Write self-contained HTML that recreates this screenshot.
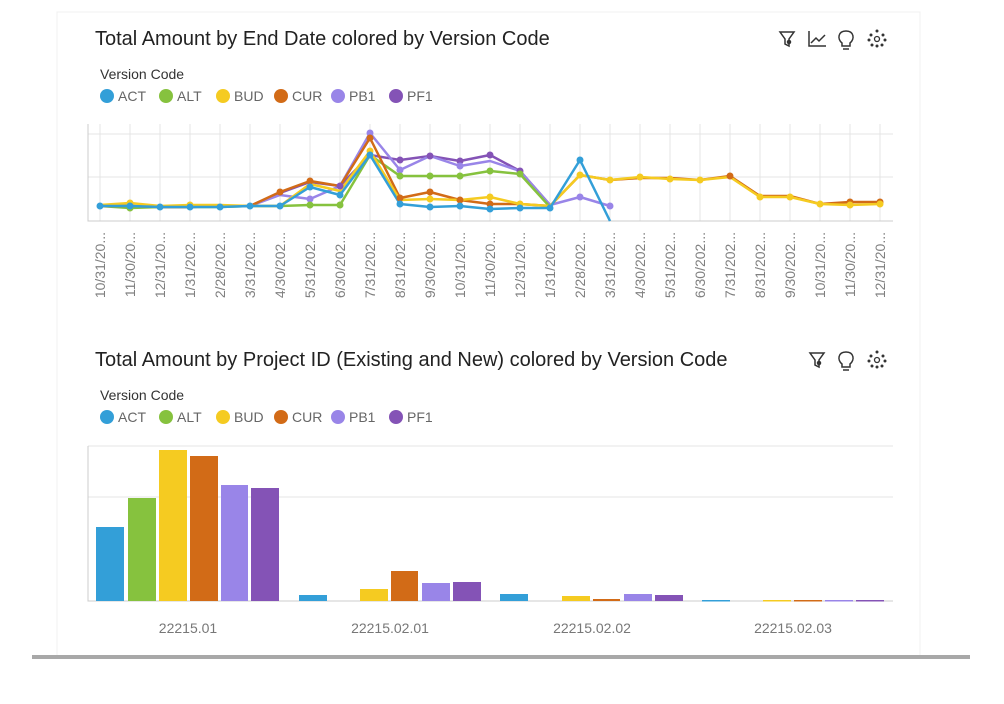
<!DOCTYPE html>
<html><head><meta charset="utf-8"><style>
body{margin:0;background:#fff;width:1004px;height:699px;overflow:hidden;font-family:"Liberation Sans",sans-serif}
</style></head><body>
<svg width="1004" height="699" xmlns="http://www.w3.org/2000/svg" font-family="Liberation Sans, sans-serif">
<rect x="57" y="12" width="863" height="645" fill="#fff" stroke="#f0f0f0"/>
<rect x="32" y="655" width="938" height="4" fill="#a8a8a8"/>
<!-- Chart 1 -->
<text x="95" y="45" font-size="20" fill="#222">Total Amount by End Date colored by Version Code</text>
<g fill="none" stroke="#333" stroke-width="1.5">
<path d="M780 32h14l-5 7v7l-4-2v-5z"/><circle cx="789" cy="42" r="1.5" fill="#333"/>
<path d="M809 31v15h17M811 43l5-5 3 3 6-6"/>
<path d="M842 43c-5-4-4-12 4-12s9 8 4 12v3h-8z"/><path d="M843 49h6"/>
</g>
<g fill="#333"><circle cx="877" cy="31" r="1.5"/><circle cx="871" cy="35" r="1.5"/><circle cx="883" cy="35" r="1.5"/><circle cx="869" cy="40" r="1.5"/><circle cx="885" cy="40" r="1.5"/><circle cx="872" cy="45" r="1.5"/><circle cx="882" cy="45" r="1.5"/><circle cx="877" cy="46" r="1.5"/><circle cx="877" cy="39" r="2.5" fill="none" stroke="#333" stroke-width="1.3"/></g>
<text x="100" y="79" font-size="14" fill="#333">Version Code</text>
<g font-size="14" fill="#666">
<circle cx="107" cy="96" r="7" fill="#339fd8"/><text x="118" y="101">ACT</text>
<circle cx="166" cy="96" r="7" fill="#86c23e"/><text x="177" y="101">ALT</text>
<circle cx="223" cy="96" r="7" fill="#f5cb21"/><text x="234" y="101">BUD</text>
<circle cx="281" cy="96" r="7" fill="#d26b17"/><text x="292" y="101">CUR</text>
<circle cx="338" cy="96" r="7" fill="#9985e8"/><text x="349" y="101">PB1</text>
<circle cx="396" cy="96" r="7" fill="#8453b6"/><text x="407" y="101">PF1</text>
</g>
<g stroke="#e4e4e4" stroke-width="1">
<path d="M88 134H893M88 177H893"/>
<path d="M100 124V221M130 124V221M160 124V221M190 124V221M220 124V221M250 124V221M280 124V221M310 124V221M340 124V221M370 124V221M400 124V221M430 124V221M460 124V221M490 124V221M520 124V221M550 124V221M580 124V221M610 124V221M640 124V221M670 124V221M700 124V221M730 124V221M760 124V221M790 124V221M820 124V221M850 124V221M880 124V221"/>
</g>
<path d="M88 124V221H893" stroke="#ccc" fill="none"/>
<g fill="none" stroke-width="2.5" stroke-linejoin="round">
<polyline stroke="#8453b6" points="100,206 130,206 160,207 190,207 220,206 250,206 280,193 310,182 340,186 370,155 400,160 430,156 460,161 490,155 520,171 550,205"/>
<polyline stroke="#9985e8" points="100,206 130,206 160,207 190,207 220,206 250,206 280,195 310,199 340,186 370,133 400,170 430,156 460,166 490,161 520,171 550,205 580,197 610,206"/>
<polyline stroke="#86c23e" points="100,206 130,208 160,207 190,207 220,207 250,206 280,206 310,205 340,205 370,155 400,176 430,176 460,176 490,171 520,174 550,207"/>
<polyline stroke="#d26b17" points="100,206 130,206 160,207 190,207 220,206 250,206 280,192 310,181 340,186 370,138 400,198 430,192 460,200 490,204 520,204 550,206 580,175 610,180 640,178 670,178 700,180 730,176 760,196 790,196 820,204 850,202 880,202"/>
<polyline stroke="#f5cb21" points="100,205 130,203 160,206 190,205 220,205 250,206 280,206 310,184 340,191 370,151 400,200 430,199 460,200 490,197 520,204 550,206 580,175 610,180 640,177 670,179 700,180 730,177 760,197 790,197 820,204 850,205 880,204"/>
<polyline stroke="#339fd8" points="100,206 130,206 160,207 190,207 220,207 250,206 280,206 310,187 340,195 370,155 400,204 430,207 460,206 490,209 520,208 550,208 580,160 610,221"/>
</g>
<g stroke="none">
<g fill="#8453b6"><circle cx="400" cy="160" r="3.5"/><circle cx="430" cy="156" r="3.5"/><circle cx="460" cy="161" r="3.5"/><circle cx="490" cy="155" r="3.5"/><circle cx="520" cy="171" r="3.5"/><circle cx="340" cy="186" r="3.5"/></g>
<g fill="#9985e8"><circle cx="370" cy="133" r="3.5"/><circle cx="400" cy="170" r="3.5"/><circle cx="460" cy="166" r="3.5"/><circle cx="580" cy="197" r="3.5"/><circle cx="610" cy="206" r="3.5"/><circle cx="310" cy="199" r="3.5"/></g>
<g fill="#86c23e"><circle cx="130" cy="208" r="3.5"/><circle cx="310" cy="205" r="3.5"/><circle cx="340" cy="205" r="3.5"/><circle cx="400" cy="176" r="3.5"/><circle cx="430" cy="176" r="3.5"/><circle cx="460" cy="176" r="3.5"/><circle cx="490" cy="171" r="3.5"/><circle cx="520" cy="174" r="3.5"/></g>
<g fill="#d26b17"><circle cx="280" cy="192" r="3.5"/><circle cx="310" cy="181" r="3.5"/><circle cx="370" cy="138" r="3.5"/><circle cx="400" cy="198" r="3.5"/><circle cx="430" cy="192" r="3.5"/><circle cx="460" cy="200" r="3.5"/><circle cx="490" cy="204" r="3.5"/><circle cx="730" cy="176" r="3.5"/><circle cx="850" cy="202" r="3.5"/><circle cx="880" cy="202" r="3.5"/></g>
<g fill="#f5cb21"><circle cx="130" cy="203" r="3.5"/><circle cx="190" cy="205" r="3.5"/><circle cx="370" cy="151" r="3.5"/><circle cx="430" cy="199" r="3.5"/><circle cx="490" cy="197" r="3.5"/><circle cx="520" cy="204" r="3.5"/><circle cx="580" cy="175" r="3.5"/><circle cx="610" cy="180" r="3.5"/><circle cx="640" cy="177" r="3.5"/><circle cx="670" cy="179" r="3.5"/><circle cx="700" cy="180" r="3.5"/><circle cx="760" cy="197" r="3.5"/><circle cx="790" cy="197" r="3.5"/><circle cx="820" cy="204" r="3.5"/><circle cx="850" cy="205" r="3.5"/><circle cx="880" cy="204" r="3.5"/></g>
<g fill="#339fd8"><circle cx="100" cy="206" r="3.5"/><circle cx="130" cy="206" r="3.5"/><circle cx="160" cy="207" r="3.5"/><circle cx="190" cy="207" r="3.5"/><circle cx="220" cy="207" r="3.5"/><circle cx="250" cy="206" r="3.5"/><circle cx="280" cy="206" r="3.5"/><circle cx="310" cy="187" r="3.5"/><circle cx="340" cy="195" r="3.5"/><circle cx="370" cy="155" r="3.5"/><circle cx="400" cy="204" r="3.5"/><circle cx="430" cy="207" r="3.5"/><circle cx="460" cy="206" r="3.5"/><circle cx="490" cy="209" r="3.5"/><circle cx="520" cy="208" r="3.5"/><circle cx="550" cy="208" r="3.5"/><circle cx="580" cy="160" r="3.5"/></g>
</g>
<g font-size="14" fill="#808080" text-anchor="end">
<text transform="translate(105,232) rotate(-90)">10/31/20...</text>
<text transform="translate(135,232) rotate(-90)">11/30/20...</text>
<text transform="translate(165,232) rotate(-90)">12/31/20...</text>
<text transform="translate(195,232) rotate(-90)">1/31/202...</text>
<text transform="translate(225,232) rotate(-90)">2/28/202...</text>
<text transform="translate(255,232) rotate(-90)">3/31/202...</text>
<text transform="translate(285,232) rotate(-90)">4/30/202...</text>
<text transform="translate(315,232) rotate(-90)">5/31/202...</text>
<text transform="translate(345,232) rotate(-90)">6/30/202...</text>
<text transform="translate(375,232) rotate(-90)">7/31/202...</text>
<text transform="translate(405,232) rotate(-90)">8/31/202...</text>
<text transform="translate(435,232) rotate(-90)">9/30/202...</text>
<text transform="translate(465,232) rotate(-90)">10/31/20...</text>
<text transform="translate(495,232) rotate(-90)">11/30/20...</text>
<text transform="translate(525,232) rotate(-90)">12/31/20...</text>
<text transform="translate(555,232) rotate(-90)">1/31/202...</text>
<text transform="translate(585,232) rotate(-90)">2/28/202...</text>
<text transform="translate(615,232) rotate(-90)">3/31/202...</text>
<text transform="translate(645,232) rotate(-90)">4/30/202...</text>
<text transform="translate(675,232) rotate(-90)">5/31/202...</text>
<text transform="translate(705,232) rotate(-90)">6/30/202...</text>
<text transform="translate(735,232) rotate(-90)">7/31/202...</text>
<text transform="translate(765,232) rotate(-90)">8/31/202...</text>
<text transform="translate(795,232) rotate(-90)">9/30/202...</text>
<text transform="translate(825,232) rotate(-90)">10/31/20...</text>
<text transform="translate(855,232) rotate(-90)">11/30/20...</text>
<text transform="translate(885,232) rotate(-90)">12/31/20...</text>
</g>
<!-- Chart 2 -->
<text x="95" y="366" font-size="20" fill="#222">Total Amount by Project ID (Existing and New) colored by Version Code</text>
<g fill="none" stroke="#333" stroke-width="1.5">
<path d="M810 353h14l-5 7v7l-4-2v-5z"/><circle cx="819" cy="363" r="1.5" fill="#333"/>
<path d="M842 364c-5-4-4-12 4-12s9 8 4 12v3h-8z"/><path d="M843 370h6"/>
</g>
<g fill="#333"><circle cx="877" cy="352" r="1.5"/><circle cx="871" cy="356" r="1.5"/><circle cx="883" cy="356" r="1.5"/><circle cx="869" cy="361" r="1.5"/><circle cx="885" cy="361" r="1.5"/><circle cx="872" cy="366" r="1.5"/><circle cx="882" cy="366" r="1.5"/><circle cx="877" cy="367" r="1.5"/><circle cx="877" cy="360" r="2.5" fill="none" stroke="#333" stroke-width="1.3"/></g>
<text x="100" y="400" font-size="14" fill="#333">Version Code</text>
<g font-size="14" fill="#666">
<circle cx="107" cy="417" r="7" fill="#339fd8"/><text x="118" y="422">ACT</text>
<circle cx="166" cy="417" r="7" fill="#86c23e"/><text x="177" y="422">ALT</text>
<circle cx="223" cy="417" r="7" fill="#f5cb21"/><text x="234" y="422">BUD</text>
<circle cx="281" cy="417" r="7" fill="#d26b17"/><text x="292" y="422">CUR</text>
<circle cx="338" cy="417" r="7" fill="#9985e8"/><text x="349" y="422">PB1</text>
<circle cx="396" cy="417" r="7" fill="#8453b6"/><text x="407" y="422">PF1</text>
</g>
<path d="M88 497H893M88 446H893" stroke="#e4e4e4"/>
<path d="M88 446V601H893" stroke="#ccc" fill="none"/>
<g>
<rect x="96" y="527" width="28" height="74" fill="#339fd8"/>
<rect x="128" y="498" width="28" height="103" fill="#86c23e"/>
<rect x="159" y="450" width="28" height="151" fill="#f5cb21"/>
<rect x="190" y="456" width="28" height="145" fill="#d26b17"/>
<rect x="221" y="485" width="27" height="116" fill="#9985e8"/>
<rect x="251" y="488" width="28" height="113" fill="#8453b6"/>
<rect x="299" y="595" width="28" height="6" fill="#339fd8"/>
<rect x="360" y="589" width="28" height="12" fill="#f5cb21"/>
<rect x="391" y="571" width="27" height="30" fill="#d26b17"/>
<rect x="422" y="583" width="28" height="18" fill="#9985e8"/>
<rect x="453" y="582" width="28" height="19" fill="#8453b6"/>
<rect x="500" y="594" width="28" height="7" fill="#339fd8"/>
<rect x="562" y="596" width="28" height="5" fill="#f5cb21"/>
<rect x="593" y="599" width="27" height="2" fill="#d26b17"/>
<rect x="624" y="594" width="28" height="7" fill="#9985e8"/>
<rect x="655" y="595" width="28" height="6" fill="#8453b6"/>
<rect x="702" y="600" width="28" height="1.5" fill="#339fd8"/>
<rect x="763" y="600" width="28" height="1.5" fill="#f5cb21"/>
<rect x="794" y="600" width="28" height="1.5" fill="#d26b17"/>
<rect x="825" y="600" width="28" height="1.5" fill="#9985e8"/>
<rect x="856" y="600" width="28" height="1.5" fill="#8453b6"/>
</g>
<g font-size="14" fill="#777" text-anchor="middle">
<text x="188" y="633">22215.01</text>
<text x="390" y="633">22215.02.01</text>
<text x="592" y="633">22215.02.02</text>
<text x="793" y="633">22215.02.03</text>
</g>
</svg>
</body></html>
